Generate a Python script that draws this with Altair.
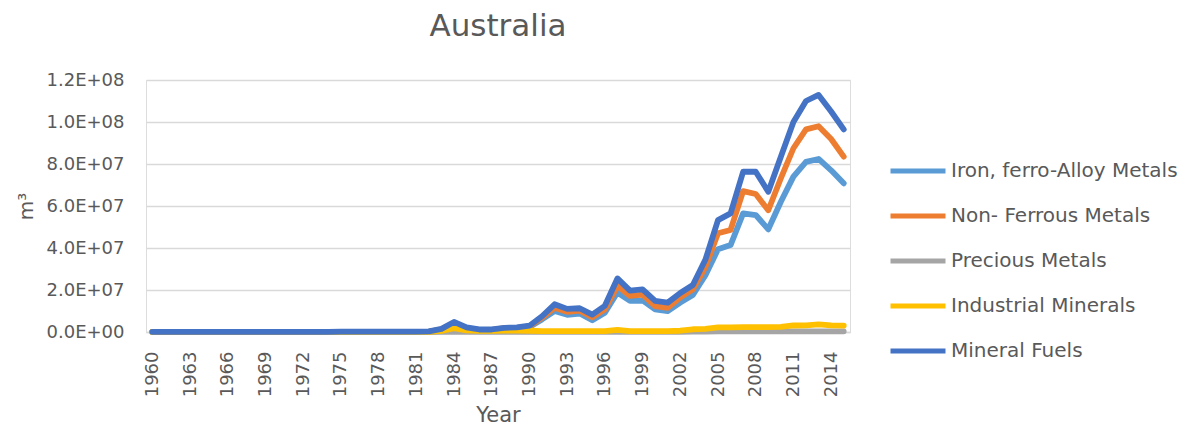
import altair as alt
import pandas as pd

years = list(range(1960, 2016))

series_names = [
    "Iron, ferro-Alloy Metals",
    "Non- Ferrous Metals",
    "Precious Metals",
    "Industrial Minerals",
    "Mineral Fuels",
]
series_colors = ["#5B9BD5", "#ED7D31", "#A5A5A5", "#FFC000", "#4472C4"]

# values in millions of m3, 1960 .. 2015
iron = [0.1, 0.1, 0.1, 0.1, 0.1, 0.1, 0.1, 0.1, 0.1, 0.1,
        0.1, 0.1, 0.1, 0.1, 0.1, 0.1, 0.1, 0.1, 0.1, 0.1,
        0.1, 0.1, 0.2, 1.0, 3.5, 1.5, 0.9, 0.9, 1.6, 1.8,
        2.4, 6.0, 10.0, 8.2, 8.8, 5.6, 9.2, 18.8, 14.8, 15.0,
        10.8, 9.9, 14.0, 17.6, 27.0, 39.4, 41.4, 56.5, 55.7, 48.9,
        62.0, 74.0, 81.0, 82.4, 77.0, 70.8]
non_ferrous = [0.1, 0.1, 0.1, 0.1, 0.1, 0.1, 0.1, 0.1, 0.1, 0.1,
               0.1, 0.1, 0.1, 0.1, 0.1, 0.1, 0.1, 0.1, 0.1, 0.1,
               0.1, 0.1, 0.2, 1.2, 4.0, 1.8, 1.0, 1.0, 1.8, 2.0,
               2.7, 6.8, 11.6, 9.6, 10.2, 7.0, 10.8, 22.0, 17.2, 17.8,
               12.3, 11.5, 16.5, 20.3, 31.0, 47.0, 48.6, 67.1, 65.7, 58.0,
               73.2, 87.5, 96.5, 98.0, 91.9, 83.5]
precious = [0.0, 0.0, 0.0, 0.0, 0.0, 0.0, 0.0, 0.0, 0.0, 0.0,
            0.0, 0.0, 0.0, 0.0, 0.0, 0.0, 0.0, 0.0, 0.0, 0.0,
            0.0, 0.0, 0.0, 0.05, 0.1, 0.1, 0.1, 0.1, 0.1, 0.1,
            0.1, 0.1, 0.1, 0.1, 0.1, 0.1, 0.1, 0.1, 0.1, 0.1,
            0.1, 0.1, 0.1, 0.2, 0.2, 0.3, 0.3, 0.3, 0.3, 0.3,
            0.3, 0.3, 0.3, 0.3, 0.3, 0.3]
industrial = [0.05, 0.05, 0.05, 0.05, 0.05, 0.05, 0.05, 0.05, 0.05, 0.05,
              0.05, 0.05, 0.05, 0.05, 0.05, 0.05, 0.05, 0.05, 0.05, 0.05,
              0.05, 0.05, 0.1, 0.5, 1.8, 0.8, 0.5, 0.5, 0.7, 0.7,
              0.6, 0.4, 0.4, 0.4, 0.4, 0.4, 0.4, 1.0, 0.4, 0.4,
              0.4, 0.4, 0.6, 1.3, 1.5, 2.2, 2.2, 2.3, 2.3, 2.3,
              2.4, 3.1, 3.2, 3.6, 3.2, 3.0]
fuels = [0.1, 0.1, 0.1, 0.1, 0.1, 0.1, 0.1, 0.1, 0.1, 0.1,
         0.1, 0.1, 0.1, 0.1, 0.1, 0.2, 0.2, 0.2, 0.2, 0.2,
         0.2, 0.2, 0.3, 1.5, 4.8, 2.2, 1.2, 1.2, 2.0, 2.2,
         3.0, 7.5, 13.2, 11.0, 11.3, 8.3, 12.5, 25.5, 19.7, 20.3,
         14.8, 14.0, 18.6, 22.4, 34.5, 53.3, 56.5, 76.3, 76.3, 66.8,
         83.5, 100.0, 110.0, 112.9, 105.0, 96.5]

x_label_years = list(range(1960, 2015, 3))
y_ticks = [0, 2e7, 4e7, 6e7, 8e7, 1e8, 1.2e8]

rows = []
for name, vals in zip(series_names, [iron, non_ferrous, precious, industrial, fuels]):
    for yr, v in zip(years, vals):
        rows.append({"Year": yr, "Series": name, "Value": v * 1e6})
df = pd.DataFrame(rows)

FONT = "DejaVu Sans"
TXT = "#595959"
GRID = "#D9D9D9"

exp_expr = "floor(log(datum.value) / LN10 + 1e-9)"
label_expr = (
    "datum.value == 0 ? '0.0E+00' : format(datum.value / pow(10, " + exp_expr + "), '.1f') + 'E+' + ("
    + exp_expr + " < 10 ? '0' : '') + " + exp_expr
)

color = alt.Color(
    "Series:N",
    scale=alt.Scale(domain=series_names, range=series_colors),
    legend=alt.Legend(
        title=None,
        orient="none",
        legendX=742,
        legendY=61,
        symbolType="stroke",
        symbolSize=3025,
        symbolStrokeWidth=5,
        labelFont=FONT,
        labelFontSize=20,
        labelColor=TXT,
        labelOffset=3,
        rowPadding=5,
        labelLimit=400,
    ),
)

base = alt.Chart(df).mark_line(strokeWidth=5.8, strokeJoin="round", strokeCap="round").encode(
    x=alt.X(
        "Year:Q",
        scale=alt.Scale(domain=[1959.5, 2015.5], nice=False, zero=False),
        axis=alt.Axis(
            values=x_label_years,
            format="d",
            labelAngle=-90,
            grid=False,
            ticks=False,
            domain=True,
            domainColor=GRID,
            domainWidth=1.3,
            labelFont=FONT,
            labelFontSize=18,
            labelColor=TXT,
            labelPadding=19,
            title="Year",
            titleFont=FONT,
            titleFontSize=21,
            titleFontWeight="normal",
            titleColor=TXT,
            titlePadding=8,
        ),
    ),
    y=alt.Y(
        "Value:Q",
        scale=alt.Scale(domain=[0, 1.2e8], nice=False),
        axis=alt.Axis(
            values=y_ticks,
            labelExpr=label_expr,
            grid=True,
            gridColor=GRID,
            gridWidth=1.3,
            ticks=False,
            domain=False,
            labelFont=FONT,
            labelFontSize=18,
            labelColor=TXT,
            labelPadding=22,
            title="m³",
            titleFont=FONT,
            titleFontSize=20,
            titleFontWeight="normal",
            titleColor=TXT,
            titlePadding=10,
        ),
    ),
    color=color,
)

layers = [base.transform_filter(alt.datum.Series == n) for n in series_names]

chart = alt.layer(*layers).properties(
    width=704,
    height=252,
    title=alt.TitleParams(
        "Australia",
        font=FONT,
        fontSize=31,
        fontWeight="normal",
        color=TXT,
        anchor="middle",
        offset=28,
    ),
    autosize=alt.AutoSizeParams(type="none"),
    padding={"left": 138, "top": 72, "right": 330, "bottom": 96},
).configure_view(stroke=None).configure(background="white")

chart.save("out.html", embed_options={"renderer": "svg", "actions": False})
